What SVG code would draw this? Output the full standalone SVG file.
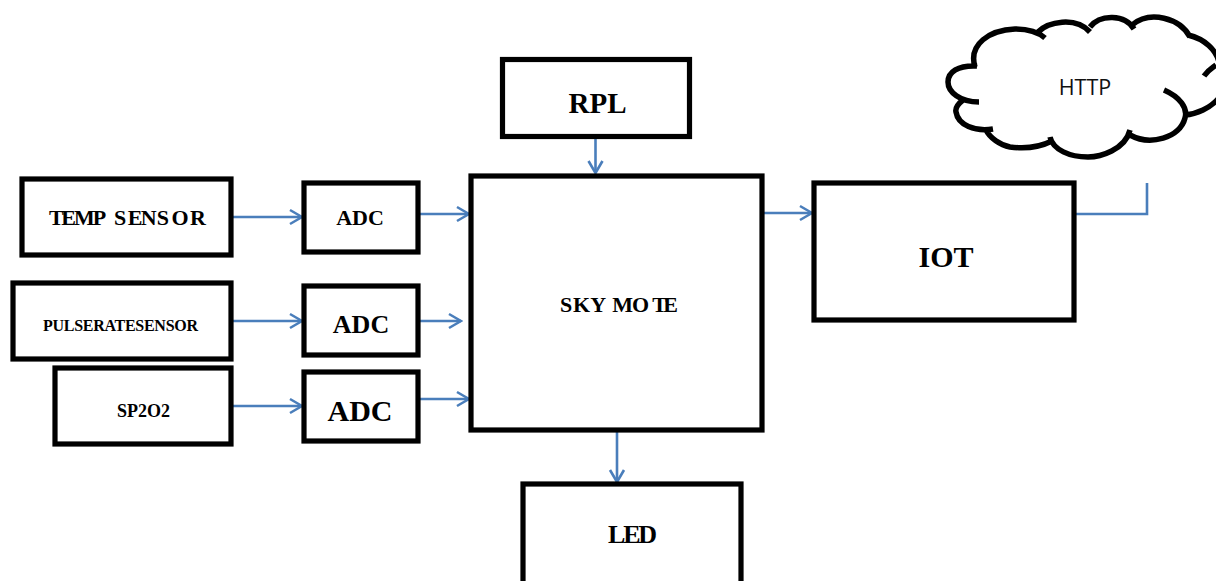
<svg xmlns="http://www.w3.org/2000/svg" width="1216" height="581" viewBox="0 0 1216 581">
<style>
.box{fill:#fff;stroke:#000;stroke-width:5.2}
.t{font-family:"Liberation Serif",serif;font-weight:bold;fill:#000;text-anchor:middle}
.s{text-anchor:start}
.c{fill:none;stroke:#4a7ebb;stroke-width:2.6}
.cl{fill:none;stroke:#000;stroke-width:5.5}
</style>
<defs><marker id="a" markerUnits="userSpaceOnUse" markerWidth="16" markerHeight="20" refX="14" refY="10" orient="auto"><path d="M2 3 L14 10 L2 17" fill="none" stroke="#4a7ebb" stroke-width="2.600"/></marker></defs>
<rect width="1216" height="581" fill="#fff"/>
<g id="cloud">
<path class="cl" d="M975 67C968 44 990 30 1015 29C1028 29 1038 32 1045 38M1038 32C1048 22 1075 16 1090 32M1090 27C1100 14 1125 14 1134 29M1132 25C1150 10 1180 18 1190 37M1188 35C1205 39 1216 50 1219 62M1204 76C1208 70 1212 68 1216 65M1185 115C1197 114 1210 108 1218 99M1164 90C1180 97 1188 108 1185 118C1180 138 1150 146 1130 135M1130 130C1125 150 1100 157 1088 157C1070 157 1053 150 1050 137M1052 141C1040 147 1025 149 1010 147C1000 145 990 138 986 130M993 129C975 132 958 125 956 112C955 108 958 104 963 100M979 102C960 102 948 92 948 82C948 72 958 65 977 66"/>
<text x="1085" y="95" font-family="'Open Sans','Noto Sans',sans-serif" font-size="21.500" fill="#111" text-anchor="middle">HTTP</text>
</g>
<g id="connectors">
<path class="c" d="M595.500 137V173" marker-end="url(#a)"/>
<path class="c" d="M231 217H302" marker-end="url(#a)"/>
<path class="c" d="M419 214H469" marker-end="url(#a)"/>
<path class="c" d="M231 321H302" marker-end="url(#a)"/>
<path class="c" d="M420 321H461" marker-end="url(#a)"/>
<path class="c" d="M231 406H302" marker-end="url(#a)"/>
<path class="c" d="M419 399H469" marker-end="url(#a)"/>
<path class="c" d="M763 213H812" marker-end="url(#a)"/>
<path class="c" d="M617 430V482" marker-end="url(#a)"/>
<path class="c" d="M1074 214H1147V183"/>
</g>
<g id="rpl"><rect class="box" x="502.500" y="59.500" width="187" height="77"/><text class="t" x="597.500" y="113" font-size="29">RPL</text></g>
<g id="temp"><rect class="box" x="22" y="179" width="209" height="76"/><text class="t s" x="49" y="225" font-size="22" dx="0 -2.500 -2 -2 0 3.500 1.500 -1.500 0 2.500 1.500">TEMP SENSOR</text></g>
<g id="adc1"><rect class="box" x="304" y="183" width="114" height="69"/><text class="t" x="360" y="225" font-size="22">ADC</text></g>
<g id="pulse"><rect class="box" x="13" y="283" width="218" height="76"/><text class="t" x="120.500" y="331" font-size="16" textLength="155" lengthAdjust="spacing">PULSERATESENSOR</text></g>
<g id="adc2"><rect class="box" x="304" y="286" width="114" height="69"/><text class="t" x="361" y="333" font-size="26">ADC</text></g>
<g id="sp"><rect class="box" x="55" y="368" width="176" height="76"/><text class="t" x="143.500" y="417" font-size="18">SP2O2</text></g>
<g id="adc3"><rect class="box" x="304" y="372" width="114" height="69"/><text class="t" x="360" y="421" font-size="30">ADC</text></g>
<g id="sky"><rect class="box" x="471" y="176" width="291" height="254"/><text class="t s" x="560" y="312" font-size="22" dx="0 0.800 0 0 1.600 -1 3 -3.700">SKY MOTE</text></g>
<g id="iot"><rect class="box" x="814" y="183" width="260" height="137"/><text class="t" x="946" y="267" font-size="30">IOT</text></g>
<g id="led"><rect class="box" x="523" y="484" width="218" height="100"/><text class="t s" x="608" y="543" font-size="26" dx="0 -2 -2.500">LED</text></g>
</svg>
